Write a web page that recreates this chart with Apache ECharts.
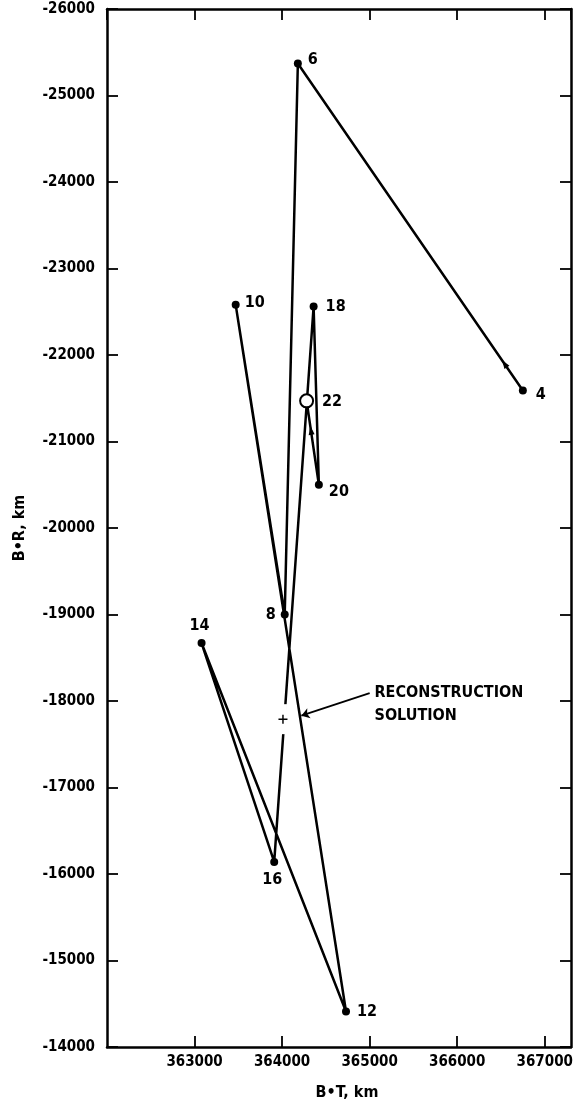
<!DOCTYPE html>
<html><head><meta charset="utf-8">
<script src="https://cdn.jsdelivr.net/npm/echarts@6/dist/echarts.min.js"></script>
<style>html,body{margin:0;padding:0;background:#fff}#c{width:577px;height:1108px}</style>
</head><body><div id="c"></div>
<script>
// ---- data ----
const pointLabels = ['4', '6', '8', '10', '12', '14', '16', '18', '20', '22'];
const btValues = [366750, 364180, 364030, 363470, 364730, 363080, 363910, 364360, 364420, 364280];
const brValues = [-21590, -25370, -19000, -22580, -14410, -18670, -16140, -22560, -20500, -21470];
const finalPoint = '22';

const solutionBT = [364010];
const solutionBR = [-17790];
const solutionText = ['RECONSTRUCTION', 'SOLUTION'];
const annotFromBT = 365000, annotFromBR = -18090;
const annotToBT = 364220, annotToBR = -17830;
const annotTextBT = 365050, annotTextBR = -17965;

const arrowBT = [366540, 364330];
const arrowBR = [-21900, -21130];

const xTicks = [363000, 364000, 365000, 366000, 367000];
const yTicks = [-26000, -25000, -24000, -23000, -22000, -21000, -20000, -19000, -18000, -17000, -16000, -15000, -14000];
const xTitle = 'B\u2022T, km';
const yTitle = 'B\u2022R, km';

// ---- styles ----
const FONT = 'DejaVu Sans Condensed';
const labelPlacement = {
  '4':  {position: 'right', distance: 9, offset: [0, 4]},
  '6':  {position: 'right', distance: 6, offset: [0, -4]},
  '8':  {position: 'left', distance: 5, offset: [0, 0]},
  '10': {position: 'right', distance: 5, offset: [0, -2]},
  '12': {position: 'right', distance: 7, offset: [0, 0]},
  '14': {position: 'top', distance: 5, offset: [-2, 0]},
  '16': {position: 'bottom', distance: 6, offset: [-2, 0]},
  '18': {position: 'right', distance: 8, offset: [0, 0]},
  '20': {position: 'right', distance: 6, offset: [0, 7]},
  '22': {position: 'right', distance: 8, offset: [0, 1]}
};
const arrowRotate = [34, 8];

const textStyle = {color: '#000', fontFamily: FONT, fontWeight: 'bold', fontSize: 15};
const pointText = Object.assign({}, textStyle, {fontSize: 16});

const pathData = pointLabels.map((n, i) => {
  const item = {
    name: n,
    value: [btValues[i], brValues[i]],
    label: Object.assign({show: true, formatter: '{b}'}, pointText, labelPlacement[n])
  };
  if (n === finalPoint) {
    item.symbolSize = 13;
    item.itemStyle = {color: '#fff', borderColor: '#000', borderWidth: 2};
  }
  return item;
});

const xStep = xTicks[1] - xTicks[0];
const yStep = yTicks[1] - yTicks[0];
const xMin = xTicks[0] - xStep, xMax = 367300;

function axisCommon(extra) {
  return Object.assign({
    type: 'value',
    axisLine: {show: true, onZero: false, lineStyle: {color: '#000', width: 2.5}},
    axisTick: {show: true, inside: true, length: 11, lineStyle: {color: '#000', width: 1.8}},
    splitLine: {show: false}
  }, extra);
}

const chart = echarts.init(document.getElementById('c'), null, {renderer: 'canvas'});
chart.setOption({
  animation: false,
  backgroundColor: '#fff',
  grid: {left: 107, right: 6, top: 9, bottom: 61},
  xAxis: [
    axisCommon({
      position: 'bottom', min: xMin, max: xMax, interval: xStep,
      axisLabel: Object.assign({
        formatter: v => xTicks.includes(v) ? String(v) : '',
        showMinLabel: false, showMaxLabel: false, margin: 8
      }, textStyle),
      name: xTitle, nameLocation: 'middle', nameGap: 38,
      nameTextStyle: Object.assign({}, textStyle, {fontSize: 16, padding: [0, 0, 0, 16]})
    }),
    axisCommon({
      position: 'top', min: xMin, max: xMax, interval: xStep,
      axisLabel: {show: false}
    })
  ],
  yAxis: [
    axisCommon({
      position: 'left', inverse: true, min: yTicks[0], max: yTicks[yTicks.length - 1], interval: yStep,
      axisLabel: Object.assign({
        formatter: v => yTicks.includes(v) ? String(v) : '', margin: 12
      }, textStyle),
      name: yTitle, nameLocation: 'middle', nameGap: 79,
      nameTextStyle: Object.assign({}, textStyle, {fontSize: 16})
    }),
    axisCommon({
      position: 'right', inverse: true, min: yTicks[0], max: yTicks[yTicks.length - 1], interval: yStep,
      axisLabel: {show: false}
    })
  ],
  series: [
    {
      type: 'line', name: 'path', z: 3,
      data: pathData,
      symbol: 'circle', symbolSize: 8,
      itemStyle: {color: '#000', opacity: 1},
      lineStyle: {color: '#000', width: 2.5},
      label: Object.assign({show: true, formatter: '{b}'}, pointText)
    },
    {
      type: 'scatter', name: 'arrows', z: 4,
      data: arrowBT.map((x, i) => ({value: [x, arrowBR[i]], symbolRotate: arrowRotate[i]})),
      symbol: 'triangle', symbolSize: [6, 9],
      itemStyle: {color: '#000', opacity: 1}
    },
    {
      type: 'scatter', name: 'solutionGap', z: 5,
      data: solutionBT.map((x, i) => [x, solutionBR[i]]),
      symbol: 'rect', symbolSize: [8, 30],
      itemStyle: {color: '#fff', opacity: 1}
    },
    {
      type: 'scatter', name: 'solution', z: 6,
      data: solutionBT.map((x, i) => [x, solutionBR[i]]),
      symbol: 'path://M4.2,0H5.8V4.2H10V5.8H5.8V10H4.2V5.8H0V4.2H4.2Z',
      symbolSize: 9,
      itemStyle: {color: '#000', opacity: 1},
      markLine: {
        silent: true, symbol: ['none', 'arrow'], symbolSize: 8,
        lineStyle: {color: '#000', width: 1.8, type: 'solid', opacity: 1},
        label: {show: false},
        data: [[{coord: [annotFromBT, annotFromBR]}, {coord: [annotToBT, annotToBR]}]]
      }
    },
    {
      type: 'scatter', name: 'solutionLabel', z: 6,
      data: [[annotTextBT, annotTextBR]],
      symbolSize: 1, itemStyle: {color: 'rgba(0,0,0,0)', opacity: 1},
      label: Object.assign({
        show: true, position: 'right', distance: 0,
        formatter: solutionText.join('\n'), lineHeight: 23, align: 'left'
      }, textStyle, {fontSize: 16})
    }
  ]
});
</script>
</body></html>
